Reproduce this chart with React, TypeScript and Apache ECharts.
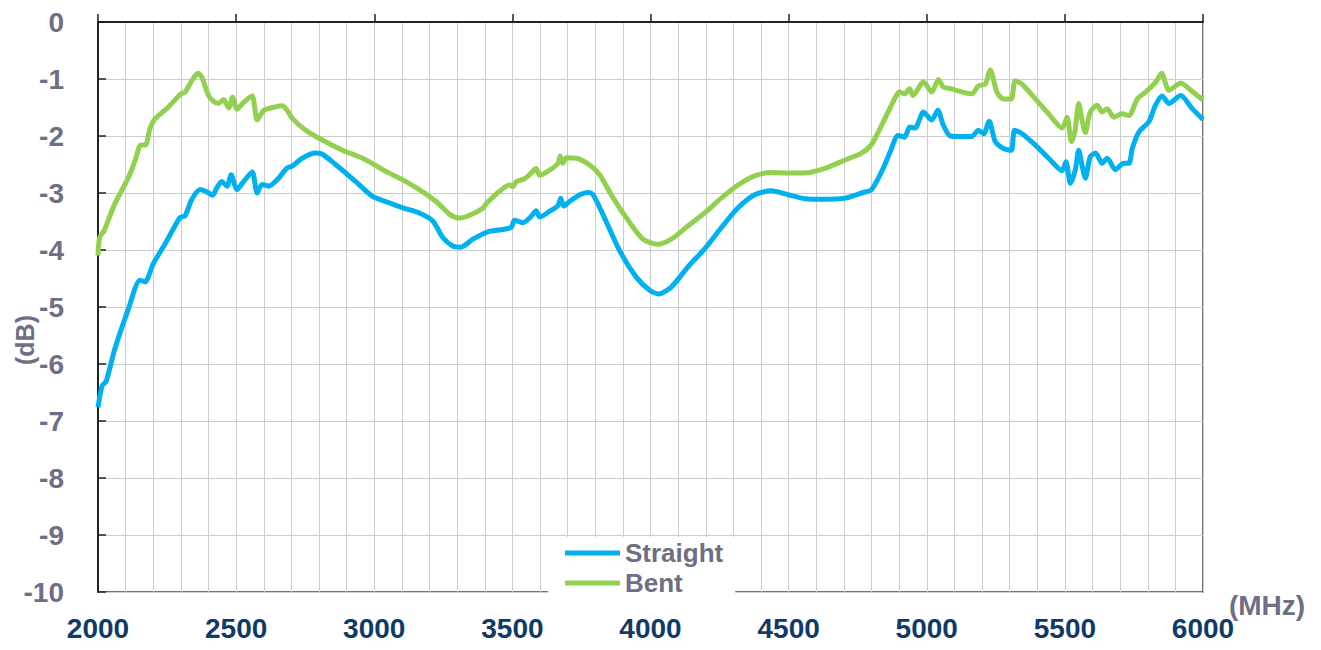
import React, { useEffect, useRef } from "react";
import * as echarts from "echarts";

const freqStraight = [2000, 2015, 2030, 2060, 2109, 2152, 2170, 2200, 2242, 2297, 2315, 2340, 2370, 2394, 2415, 2430, 2448, 2467, 2482, 2503, 2527, 2558, 2576, 2594, 2618, 2648, 2685, 2703, 2739, 2788, 2812, 2860, 2933, 2994, 3042, 3103, 3163, 3212, 3248, 3284, 3314, 3357, 3411, 3466, 3496, 3508, 3538, 3568, 3586, 3599, 3635, 3665, 3675, 3686, 3707, 3744, 3774, 3792, 3828, 3889, 3949, 3998, 4030, 4075, 4135, 4196, 4256, 4317, 4377, 4438, 4498, 4559, 4631, 4704, 4764, 4800, 4842, 4870, 4896, 4920, 4938, 4958, 4988, 5018, 5040, 5060, 5085, 5127, 5163, 5187, 5206, 5226, 5248, 5278, 5306, 5318, 5345, 5393, 5441, 5490, 5504, 5520, 5538, 5550, 5562, 5574, 5592, 5611, 5635, 5653, 5683, 5713, 5732, 5744, 5768, 5804, 5828, 5852, 5877, 5919, 5961, 6000];
const dbStraight = [-6.76, -6.38, -6.3, -5.75, -5.05, -4.53, -4.56, -4.24, -3.9, -3.43, -3.4, -3.11, -2.94, -2.98, -3.04, -2.91, -2.8, -2.88, -2.68, -2.94, -2.8, -2.63, -3.0, -2.85, -2.88, -2.77, -2.56, -2.53, -2.39, -2.3, -2.32, -2.5, -2.8, -3.06, -3.15, -3.26, -3.35, -3.49, -3.78, -3.93, -3.95, -3.81, -3.68, -3.64, -3.6, -3.48, -3.52, -3.41, -3.31, -3.42, -3.32, -3.22, -3.09, -3.23, -3.15, -3.03, -2.99, -3.03, -3.38, -4.02, -4.48, -4.71, -4.77, -4.65, -4.3, -3.98, -3.61, -3.26, -3.03, -2.96, -3.03, -3.1, -3.11, -3.09, -3.0, -2.94, -2.57, -2.25, -1.99, -2.02, -1.84, -1.86, -1.58, -1.72, -1.55, -1.81, -2.0, -2.01, -2.01, -1.9, -1.96, -1.74, -2.1, -2.22, -2.25, -1.9, -1.96, -2.16, -2.39, -2.61, -2.45, -2.83, -2.59, -2.25, -2.51, -2.74, -2.36, -2.3, -2.48, -2.39, -2.59, -2.48, -2.48, -2.22, -1.93, -1.75, -1.46, -1.3, -1.43, -1.29, -1.52, -1.71];

const freqBent = [2000, 2006, 2022, 2060, 2109, 2133, 2155, 2172, 2188, 2206, 2255, 2300, 2315, 2340, 2361, 2376, 2400, 2418, 2436, 2455, 2473, 2487, 2503, 2527, 2558, 2576, 2600, 2642, 2667, 2685, 2703, 2752, 2800, 2885, 2958, 3042, 3103, 3163, 3224, 3272, 3308, 3345, 3393, 3405, 3453, 3490, 3502, 3514, 3544, 3568, 3586, 3599, 3635, 3665, 3673, 3683, 3695, 3732, 3780, 3816, 3865, 3925, 3973, 4027, 4075, 4135, 4196, 4256, 4317, 4377, 4438, 4498, 4559, 4631, 4704, 4764, 4800, 4842, 4890, 4902, 4920, 4938, 4950, 4988, 5018, 5042, 5060, 5085, 5163, 5187, 5212, 5230, 5254, 5278, 5306, 5320, 5345, 5393, 5441, 5490, 5508, 5524, 5536, 5550, 5562, 5574, 5592, 5617, 5635, 5653, 5677, 5707, 5732, 5762, 5792, 5828, 5850, 5877, 5919, 5961, 6000];
const dbBent = [-4.1, -3.78, -3.66, -3.2, -2.74, -2.45, -2.16, -2.16, -1.87, -1.7, -1.49, -1.26, -1.23, -1.03, -0.9, -0.97, -1.29, -1.39, -1.43, -1.36, -1.51, -1.32, -1.53, -1.41, -1.3, -1.72, -1.55, -1.49, -1.47, -1.55, -1.69, -1.9, -2.04, -2.25, -2.39, -2.62, -2.77, -2.94, -3.15, -3.37, -3.44, -3.39, -3.27, -3.19, -2.97, -2.86, -2.89, -2.8, -2.75, -2.65, -2.57, -2.69, -2.6, -2.48, -2.35, -2.48, -2.38, -2.39, -2.51, -2.68, -3.09, -3.52, -3.81, -3.9, -3.81, -3.58, -3.35, -3.09, -2.86, -2.7, -2.64, -2.65, -2.65, -2.57, -2.42, -2.3, -2.15, -1.76, -1.29, -1.23, -1.26, -1.17, -1.29, -1.05, -1.23, -1.01, -1.14, -1.17, -1.26, -1.12, -1.09, -0.84, -1.23, -1.35, -1.35, -1.03, -1.09, -1.35, -1.61, -1.86, -1.67, -2.1, -1.93, -1.43, -1.72, -1.94, -1.58, -1.46, -1.58, -1.52, -1.67, -1.61, -1.64, -1.35, -1.23, -1.06, -0.9, -1.2, -1.07, -1.22, -1.37];

const seriesNames = ["Straight", "Bent"];
const seriesColors = ["#00b0f0", "#92d050"];

const FONT = "Arial, 'Liberation Sans', sans-serif";
const GRAY = "#6e6e84";
const NAVY = "#0f3a68";

function pairs(xs: number[], ys: number[]) {
  return xs.map((x, i) => [x, ys[i]]);
}

export default function App() {
  const ref = useRef<HTMLDivElement>(null);
  useEffect(() => {
    if (!ref.current) return;
    const chart = echarts.init(ref.current, null, { renderer: "svg" });
    chart.setOption({
      animation: false,
      backgroundColor: "#ffffff",
      grid: {
        left: 90,
        right: 110,
        top: 14,
        bottom: 43,
        show: true,
        borderColor: "#444",
        borderWidth: 1.5,
        backgroundColor: "transparent",
      },
      xAxis: {
        type: "value",
        min: 2000,
        max: 6000,
        interval: 500,
        axisLine: { show: true, lineStyle: { color: "#222", width: 2 } },
        axisTick: { show: true, inside: true, length: 8, lineStyle: { color: "#222", width: 1.5 } },
        splitLine: { show: true, lineStyle: { color: "#cccccc", width: 1 } },
        minorTick: { show: false, splitNumber: 5 },
        minorSplitLine: { show: true, lineStyle: { color: "#cccccc", width: 1 } },
        axisLabel: {
          color: NAVY,
          fontWeight: "bold",
          fontSize: 28,
          fontFamily: FONT,
          margin: 22,
          formatter: (v: number) => String(v),
        },
      },
      yAxis: {
        type: "value",
        min: -10,
        max: 0,
        interval: 1,
        axisLine: { show: true, lineStyle: { color: "#222", width: 2 } },
        axisTick: { show: true, inside: true, length: 8, lineStyle: { color: "#222", width: 1.5 } },
        splitLine: { show: true, lineStyle: { color: "#cccccc", width: 1 } },
        axisLabel: {
          color: GRAY,
          fontWeight: "bold",
          fontSize: 28,
          fontFamily: FONT,
          margin: 34,
        },
      },
      legend: {
        orient: "vertical",
        left: 540,
        top: 529,
        data: seriesNames,
        icon: "rect",
        itemWidth: 55,
        itemHeight: 5,
        itemGap: 4,
        padding: [3, 12, 2, 17],
        backgroundColor: "#ffffff",
        textStyle: { color: GRAY, fontWeight: "bold", fontSize: 26, fontFamily: FONT, lineHeight: 26 },
      },
      graphic: [
        {
          type: "text",
          x: 17,
          y: 332,
          rotation: Math.PI / 2,
          style: {
            text: "(dB)",
            fill: GRAY,
            font: `bold 25px ${FONT}`,
            align: "center",
            verticalAlign: "middle",
          },
        },
        {
          type: "text",
          x: 1259,
          y: 597,
          style: {
            text: "(MHz)",
            fill: GRAY,
            font: `bold 28px ${FONT}`,
            align: "center",
            verticalAlign: "middle",
          },
        },
      ],
      series: [
        {
          name: seriesNames[0],
          type: "line",
          data: pairs(freqStraight, dbStraight),
          showSymbol: false,
          smooth: 0.25,
          lineStyle: { color: seriesColors[0], width: 5 },
          itemStyle: { color: seriesColors[0] },
          z: 3,
        },
        {
          name: seriesNames[1],
          type: "line",
          data: pairs(freqBent, dbBent),
          showSymbol: false,
          smooth: 0.25,
          lineStyle: { color: seriesColors[1], width: 5 },
          itemStyle: { color: seriesColors[1] },
          z: 2,
        },
      ],
    });
    return () => chart.dispose();
  }, []);
  return <div ref={ref} style={{ width: 1305, height: 634 }} />;
}
